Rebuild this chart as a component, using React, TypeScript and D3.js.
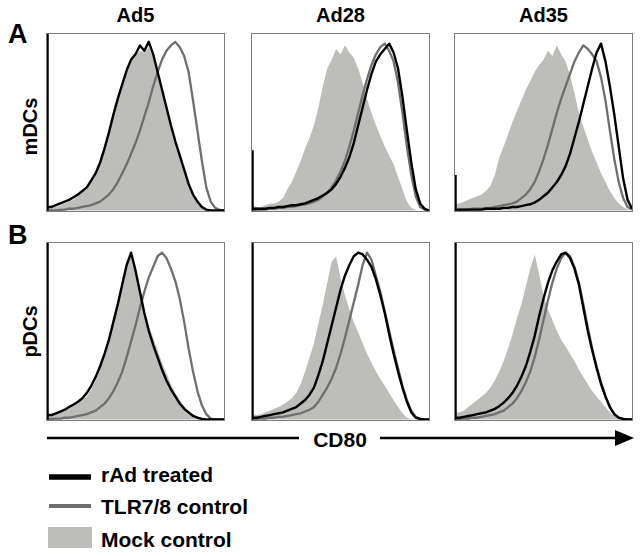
import React from "react";
import * as d3 from "d3";

// ---- data (percent of panel height) at 41 evenly spaced channel positions ----
const columns = ["Ad5", "Ad28", "Ad35"];
const rows = ["mDCs", "pDCs"];
const rowLetters = ["A", "B"];
const legendLabels = ["rAd treated", "TLR7/8 control", "Mock control"];
const axisLabel = "CD80";

// first-bin pile-up of the rAd treated histogram, per panel (A1..A3, B1..B3)
const rAdFirstBin = [100, 34, 20, 100, 100, 100];

const mockA1 = [3,2,2,3,4,5,6,8,10,12,16,20,26,34,43,53,62,70,78,84,87,90,89,92,86,76,66,56,47,38,30,22,14,8,4,1.5,0.5,0,0,0,0];
const tlrA1 = [0,0,0,0.3,0.5,1,1,1.5,2,2.5,3,4,5,7,9,12,16,21,26,32,38,45,53,61,70,78,85,90,93,95,92,87,78,62,45,28,13,5,1.5,0.3,0];
const radA1 = [2,2,3,4,5,6,7.5,9,11,13,17,21,27,35,44,54,63,71,79,85,88,93,90,95,88,78,68,58,48,39,31,23,15,9,5,2,0.5,0,0,0,0];

const mockA2 = [3,2,2,3,4,4,5,7,12,16,22,28,35,41,48,58,70,80,85,91,88,93,89,86,80,72,63,55,48,42,36,31,26,19,12,5,1.5,0.3,0,0,0];
const tlrA2 = [0,0.3,0.5,0.5,1,1,1.5,1.5,2,2,2.5,3,3.5,4,5,6,8,10,13,17,22,28,36,45,55,65,74,82,88,92,94,90,84,72,55,36,20,8,2,0.5,0];
const radA2 = [1,1,1,1,1.5,1.5,2,2,2.5,3,3,3.5,4,5,6,7,8.5,10,12,15,19,24,30,38,48,58,68,77,84,88,91,94,89,80,64,45,27,12,4,1,0];

const mockA3 = [4,4,5,6,7,8,9,11,14,20,30,36,43,50,56,62,68,73,78,82,85,90,87,93,88,84,76,66,55,47,40,33,27,21,16,11,7,4,2,0.5,0];
const tlrA3 = [0,0.3,0.5,0.5,1,1,1,1.5,1.5,2,2.5,3,3.5,4,5,7,9,12,16,22,29,37,46,55,63,70,77,84,89,93,91,88,84,75,62,45,29,16,7,2,0.5];
const radA3 = [0.5,0.5,0.5,0.5,0.5,0.5,0.5,1,1,1,1,1.5,1.5,2,2,2.5,3,3.5,4.5,6,8,10,13,16,20,25,32,41,50,60,70,80,89,94,84,70,54,36,18,6,1];

const mockB1 = [3,2.5,3,4,5,6,8,9.5,11,13,17,22,29,37,45,55,66,78,89,93,84,73,62,53,46,39,32,26,20,15,11,7.5,5,3,1.5,0.5,0,0,0,0,0];
const tlrB1 = [0,0.3,0.5,0.5,1,1,1.5,2,2.5,3,4,5,7,9,12,16,21,27,35,44,53,63,72,80,86,92,94,91,85,78,68,55,40,27,16,8,3,0.5,0,0,0];
const radB1 = [2.5,2.5,3.5,4.5,5.5,7,8.5,10,12,15,19,24,30,37,45,55,65,76,87,94,84,72,60,50,42,35,28,22,17,13,9,6,4,2,1,0.3,0,0,0,0,0];

const mockB2 = [3,2.5,3,4,5,6,7,8.5,10,12,15,20,27,35,43,54,65,77,89,92,80,70,62,55,49,43,37,32,27,23,19,15,11,7,3.5,1,0.3,0,0,0,0];
const tlrB2 = [0,0.3,0.5,0.5,1,1,1.5,1.5,2,2.5,3,3.5,4.5,5.5,7,10,14,18,23,29,37,46,56,66,76,87,94,90,81,72,61,50,39,29,19,11,5,1.5,0.3,0,0];
const radB2 = [1,1,1.5,2,2.5,3,3.5,4,5,6,7,9,11,14,18,25,33,43,53,63,73,81,87,92,94,93,90,86,79,70,60,48,37,27,18,10,4,1,0.3,0,0];

const mockB3 = [4,4,5,7,9,11,13,15,18,22,27,33,40,48,57,65,75,85,93,82,70,62,56,50,45,41,37,33,28,24,20,16,13,10,7,4,2,0.5,0,0,0];
const tlrB3 = [0,0.3,0.5,0.5,1,1,1.5,2,2.5,3,4,5,7,9,12,16,21,27,35,45,56,67,77,85,91,94,92,86,77,65,52,40,30,21,13,7,3,1,0.3,0,0];
const radB3 = [1,1,1.5,2,2.5,3,3.5,4,5,6,7.5,9.5,12,15,19,24,30,38,47,58,68,77,84,89,93,94,91,85,76,63,50,39,29,20,13,7,3,1,0.3,0,0];

const mockSeries = [mockA1, mockA2, mockA3, mockB1, mockB2, mockB3];
const tlrSeries = [tlrA1, tlrA2, tlrA3, tlrB1, tlrB2, tlrB3];
const radSeries = [radA1, radA2, radA3, radB1, radB2, radB3];

// ---- styling / layout ----
const FONT = "'Liberation Sans', Arial, Helvetica, sans-serif";
const MOCK_FILL = "#bdbdb9";
const TLR_COLOR = "#6f6f6f";
const RAD_COLOR = "#000000";
const FRAME = "#7d7d7d";

const panelLeft = [46, 251, 454];
const panelTop = [33, 242];
const PW = 179;
const PH = 179;

function Panel({ idx, x0, y0 }: { idx: number; x0: number; y0: number }) {
  const n = mockSeries[idx].length;
  const xs = d3.scaleLinear().domain([0, n - 1]).range([x0 + 1, x0 + PW - 1]);
  const ys = d3.scaleLinear().domain([0, 100]).range([y0 + PH - 1.5, y0]);
  const area = d3
    .area<number>()
    .x((_, i) => xs(i))
    .y0(ys(0))
    .y1((d) => ys(d))
    .curve(d3.curveLinear);
  const line = d3
    .line<number>()
    .x((_, i) => xs(i))
    .y((d) => ys(d))
    .curve(d3.curveLinear);
  const clipId = `clip${idx}`;
  return (
    <g>
      <defs>
        <clipPath id={clipId}>
          <rect x={x0} y={y0} width={PW} height={PH} />
        </clipPath>
      </defs>
      <rect x={x0} y={y0} width={PW} height={PH} fill="#fff" />
      <g clipPath={`url(#${clipId})`}>
        <path d={area(mockSeries[idx]) || ""} fill={MOCK_FILL} />
        <path d={line(tlrSeries[idx]) || ""} fill="none" stroke={TLR_COLOR} strokeWidth={2.3} strokeLinejoin="round" />
        <path d={line(radSeries[idx]) || ""} fill="none" stroke={RAD_COLOR} strokeWidth={2.4} strokeLinejoin="round" />
        <line x1={x0 + 1.5} x2={x0 + 1.5} y1={ys(0)} y2={ys(rAdFirstBin[idx])} stroke={RAD_COLOR} strokeWidth={2.5} />
      </g>
      <rect x={x0 + 0.5} y={y0 + 0.5} width={PW - 1} height={PH - 1} fill="none" stroke={FRAME} strokeWidth={1} />
    </g>
  );
}

export default function App() {
  const W = 640;
  const H = 556;
  const arrowY = 438;
  const legendY = [477, 506, 537.5];
  const legendBase = [482, 514, 547];
  return (
    <svg width={W} height={H} style={{ position: "absolute", left: 0, top: 0, background: "#fff" }} fontFamily={FONT}>
      <rect width={W} height={H} fill="#fff" />
      {columns.map((c, j) => (
        <text key={c} x={panelLeft[j] + PW / 2} y={22} textAnchor="middle" fontSize={20} fontWeight="bold">
          {c}
        </text>
      ))}
      {rowLetters.map((l, r) => (
        <text key={l} x={8} y={r === 0 ? 43 : 244} fontSize={27} fontWeight="bold">
          {l}
        </text>
      ))}
      {rows.map((lab, r) => (
        <text
          key={lab}
          transform={`translate(37,${panelTop[r] + PH / 2 + (r === 0 ? 4 : 0)}) rotate(-90)`}
          textAnchor="middle"
          fontSize={20}
          fontWeight="bold"
        >
          {lab}
        </text>
      ))}
      {rows.map((_, r) =>
        columns.map((__, j) => <Panel key={`${r}-${j}`} idx={r * 3 + j} x0={panelLeft[j]} y0={panelTop[r]} />)
      )}
      {/* axis arrow */}
      <line x1={47} x2={299} y1={arrowY} y2={arrowY} stroke="#000" strokeWidth={2.5} />
      <line x1={380} x2={618} y1={arrowY} y2={arrowY} stroke="#000" strokeWidth={2.5} />
      <path d={`M615,${arrowY - 8} L634,${arrowY} L615,${arrowY + 8} Z`} fill="#000" />
      <text x={340} y={447} textAnchor="middle" fontSize={21} fontWeight="bold">
        {axisLabel}
      </text>
      {/* legend */}
      <line x1={49} x2={91} y1={legendY[0]} y2={legendY[0]} stroke={RAD_COLOR} strokeWidth={5.5} />
      <line x1={49} x2={91} y1={legendY[1]} y2={legendY[1]} stroke={TLR_COLOR} strokeWidth={4} />
      <rect x={48} y={527} width={44} height={21} fill={MOCK_FILL} />
      {legendLabels.map((l, i) => (
        <text key={l} x={101} y={legendBase[i]} fontSize={21} fontWeight="bold">
          {l}
        </text>
      ))}
    </svg>
  );
}
